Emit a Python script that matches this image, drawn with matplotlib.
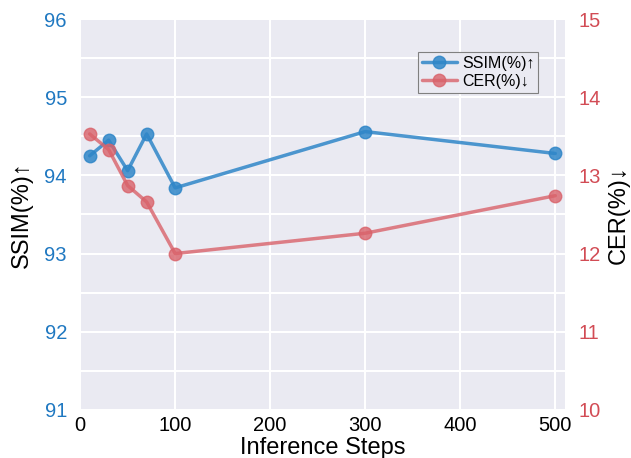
import numpy as np
import matplotlib
matplotlib.use('Agg')
import matplotlib.pyplot as plt
import seaborn as sns

steps = [10, 30, 50, 70, 100, 300, 500]
ssim = [94.25, 94.45, 94.06, 94.53, 93.84, 94.56, 94.28]
cer = [13.53, 13.33, 12.87, 12.66, 12.00, 12.26, 12.74]

ssim_ticks = [91, 92, 93, 94, 95, 96]
cer_ticks = [10, 11, 12, 13, 14, 15]
x_ticks = [0, 100, 200, 300, 400, 500]

blue = '#2f86c8'
red = '#d9626a'

sns.set_style('darkgrid')
plt.rcParams['font.family'] = ['Liberation Sans', 'DejaVu Sans']

fig = plt.figure(figsize=(6.31, 4.58), dpi=100)
ax1 = fig.add_axes([0.127, 0.105, 0.768, 0.8535])
ax2 = ax1.twinx()

l1, = ax1.plot(steps, ssim, '-o', color=blue, lw=2.5, ms=9, alpha=0.85, label='SSIM(%)↑')
l2, = ax2.plot(steps, cer, '-o', color=red, lw=2.5, ms=9, alpha=0.8, label='CER(%)↓')

ax1.set_xlim(0, 510)
ax1.set_ylim(91, 96)
ax2.set_ylim(10, 15)
ax1.set_xticks(x_ticks)
ax1.set_yticks(ssim_ticks)
ax1.set_yticks(np.arange(91.5, 96, 1.0), minor=True)
ax2.set_yticks(cer_ticks)
ax1.grid(True, which='both', color='white', lw=1.5)
ax2.grid(False)
for s in ax1.spines.values():
    s.set_visible(False)
for s in ax2.spines.values():
    s.set_visible(False)

ax1.tick_params(axis='y', colors='#1f78c1', labelsize=14.5, which='both', length=0, pad=9.5)
ax1.tick_params(axis='x', labelsize=14.5, colors='black', length=0, pad=4.5)
ax2.tick_params(axis='y', colors='#d24c55', labelsize=14.5, length=0, pad=10)

ax1.set_xlabel('Inference Steps', fontsize=17, labelpad=1, color='black')
ax1.set_ylabel('SSIM(%)↑', fontsize=17, labelpad=8, color='black')
ax2.set_ylabel('CER(%)↓', fontsize=17, labelpad=5, color='black')

leg = ax1.legend(handles=[l1, l2], loc='upper right', bbox_to_anchor=(0.962, 0.937),
                 fontsize=11.5, frameon=True, fancybox=False, framealpha=1,
                 edgecolor='gray', borderpad=0.25, handlelength=2.2,
                 handletextpad=0.3, labelspacing=0.2)
leg.get_frame().set_linewidth(0.8)
for t in leg.get_texts():
    t.set_color('black')

fig.savefig('out.png', dpi=100)
